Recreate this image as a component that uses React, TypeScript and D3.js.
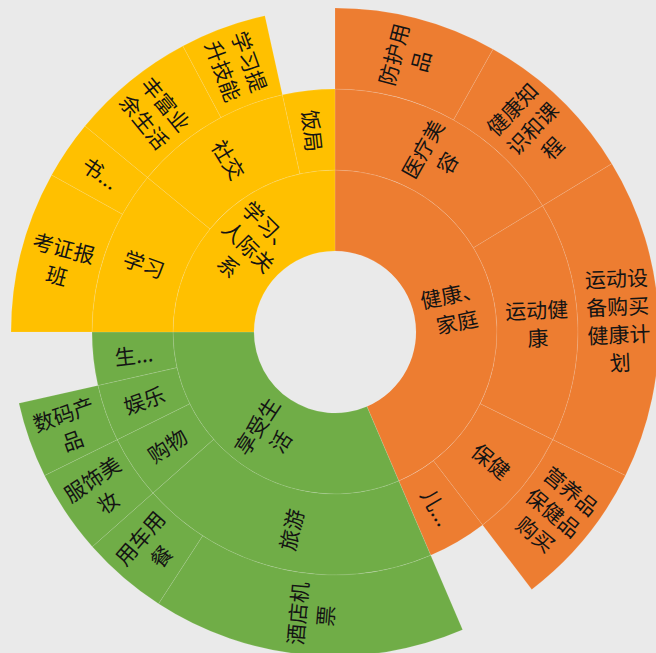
import React from "react";
import * as d3 from "d3";

// ---- data ----
const categories = ["健康、家庭", "享受生活", "学习、人际关系"];
const categoryColors = ["#ED7D31", "#70AD47", "#FFC000"];

const subcategories = ["医疗美容", "运动健康", "保健", "儿...", "旅游", "购物", "娱乐", "生...", "学习", "社交", "饭局"];
const subcategoryParent = [0, 0, 0, 0, 1, 1, 1, 1, 2, 2, 2];
// values only for subcategories that have no children
const subcategoryOwnValue = [0, 0, 0, 14.2, 0, 0, 0, 12.7, 0, 0, 12.5];

const items = [
  "防护用品", "健康知识和课程", "运动设备购买健康计划", "营养品保健品购买",
  "酒店机票", "用车用餐", "服饰美妆", "数码产品",
  "考证报班", "书...", "丰富业余生活", "学习提升技能",
];
const itemParent = [0, 0, 1, 2, 4, 4, 5, 6, 8, 8, 9, 9];
const itemValues = [29.2, 29.5, 57.6, 26.3, 56.2, 15.5, 15.2, 13.6, 29, 10.5, 22.5, 15.5];

// ---- layout ----
const W = 656;
const H = 653;
const CX = 335;
const CY = 332;
const R_INNER = 81;
const R_OUTER = 324;

type N = { name: string; cat?: number; value?: number; children?: N[] };

function buildTree(): N {
  return {
    name: "root",
    children: categories.map((c, ci) => ({
      name: c,
      cat: ci,
      children: subcategories
        .map((s, si) => ({ s, si }))
        .filter(({ si }) => subcategoryParent[si] === ci)
        .map(({ s, si }) => {
          const kids = items
            .map((it, ii) => ({ it, ii }))
            .filter(({ ii }) => itemParent[ii] === si)
            .map(({ it, ii }) => ({ name: it, value: itemValues[ii] }));
          return kids.length
            ? { name: s, children: kids }
            : { name: s, value: subcategoryOwnValue[si] };
        }),
    })),
  };
}

function wrap(name: string): string[] {
  if (name.endsWith("...")) return [name];
  const chars = Array.from(name);
  const lines: string[] = [];
  for (let i = 0; i < chars.length; i += 3) lines.push(chars.slice(i, i + 3).join(""));
  return lines;
}

export default function App() {
  const root = d3.hierarchy<N>(buildTree()).sum((d) => d.value || 0);
  d3.partition<N>().size([2 * Math.PI, 4])(root);
  const r = d3.scaleLinear().domain([1, 4]).range([R_INNER, R_OUTER]);
  const arc = d3
    .arc<any>()
    .startAngle((d) => d.x0)
    .endAngle((d) => d.x1)
    .innerRadius((d) => r(d.y0))
    .outerRadius((d) => r(d.y1));

  const nodes = root.descendants().filter((d) => d.depth > 0) as any[];
  const colorOf = (d: any) => {
    let a = d;
    while (a.depth > 1) a = a.parent;
    return categoryColors[a.data.cat];
  };

  const fontSize = 21;
  const lineH = 28;

  return (
    <svg
      width={W}
      height={H}
      style={{ position: "absolute", left: 0, top: 0 }}
      viewBox={`0 0 ${W} ${H}`}
    >
      <rect x={0} y={0} width={W} height={H} fill="#EAEAEA" />
      <g transform={`translate(${CX},${CY})`}>
        {nodes.map((d, i) => (
          <path
            key={"p" + i}
            d={arc(d) || ""}
            fill={colorOf(d)}
            stroke="rgba(255,255,255,0.14)"
            strokeWidth={0.8}
          />
        ))}
        {nodes.map((d, i) => {
          const a = (d.x0 + d.x1) / 2;
          const deg = (a * 180) / Math.PI;
          const rr = r((d.y0 + d.y1) / 2);
          const x = rr * Math.sin(a);
          const y = -rr * Math.cos(a);
          const rot = deg < 180 ? deg - 90 : deg - 270;
          const lines = wrap(d.data.name);
          const off = ((lines.length - 1) * lineH) / 2;
          return (
            <text
              key={"t" + i}
              transform={`translate(${x},${y}) rotate(${rot})`}
              textAnchor="middle"
              dominantBaseline="central"
              fontFamily="'Noto Sans CJK SC', 'Noto Sans', sans-serif"
              fontSize={fontSize}
              fill="#141414"
            >
              {lines.map((ln, li) => (
                <tspan key={li} x={0} y={li * lineH - off}>
                  {ln}
                </tspan>
              ))}
            </text>
          );
        })}
      </g>
    </svg>
  );
}
